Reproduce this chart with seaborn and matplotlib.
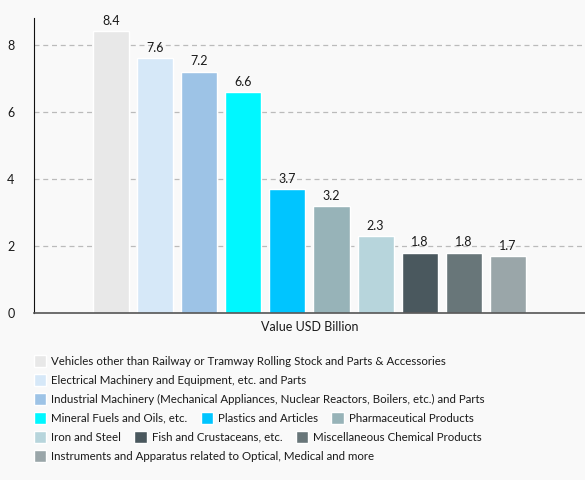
import pandas as pd
import numpy as np
import matplotlib.pyplot as plt
import seaborn as sns

# data
categories = [
    "Vehicles other than Railway or Tramway Rolling Stock and Parts & Accessories",
    "Electrical Machinery and Equipment, etc. and Parts",
    "Industrial Machinery (Mechanical Appliances, Nuclear Reactors, Boilers, etc.) and Parts",
    "Mineral Fuels and Oils, etc.",
    "Plastics and Articles",
    "Pharmaceutical Products",
    "Iron and Steel",
    "Fish and Crustaceans, etc.",
    "Miscellaneous Chemical Products",
    "Instruments and Apparatus related to Optical, Medical and more",
]
values = [8.4, 7.6, 7.2, 6.6, 3.7, 3.2, 2.3, 1.8, 1.8, 1.7]
metric = "Value USD Billion"
colors = ["#e8e8e8", "#d6e8f8", "#9dc3e6", "#00f7ff", "#00c5ff",
          "#97b3b8", "#b7d5dc", "#4a585e", "#687679", "#9aa6a9"]
legend_rows = [1, 1, 1, 3, 3, 1]  # items per legend line

bg = "#f9f9f9"
sns.set_style("white")
plt.rcParams['font.family'] = ['Lato', 'DejaVu Sans']

df = pd.DataFrame({"metric": metric, "category": categories, "value": values})

fig = plt.figure(figsize=(5.85, 4.8), dpi=100, facecolor=bg)
ax = fig.add_axes([0.058, 0.348, 0.942, 0.6145])
ax.set_facecolor(bg)

sns.barplot(data=df, x="metric", y="value", hue="category", hue_order=categories,
            palette=colors, saturation=1, width=0.8, gap=0.18, legend=False, ax=ax)

for cont in ax.containers:
    ax.bar_label(cont, fmt="%.1f", padding=3, fontsize=9, color="#1a1a1a")

ax.set_ylim(0, 8.8)
ax.set_yticks([0, 2, 4, 6, 8])
ax.yaxis.grid(True, linestyle=(0, (4, 3)), color="#bbbbbb", linewidth=0.9)
ax.set_axisbelow(True)
ax.tick_params(axis="both", length=0, colors="#1a1a1a")
ax.tick_params(axis="y", pad=14, labelsize=9)
ax.tick_params(axis="x", pad=6, labelsize=9)
ax.set_xlabel("")
ax.set_ylabel("")
for s in ["top", "right"]:
    ax.spines[s].set_visible(False)
ax.spines["left"].set_color("#111111")
ax.spines["bottom"].set_color("#555555")
ax.spines["bottom"].set_linewidth(1.2)

# flow-style legend, one matplotlib legend per line
handles = list(ax.containers)
y0 = 1 - 355 / 480
step = 19 / 480
i = 0
for r, n in enumerate(legend_rows):
    fig.legend(handles=handles[i:i + n], labels=categories[i:i + n],
               loc="upper left", bbox_to_anchor=(34 / 585, y0 - r * step),
               ncol=n, frameon=False, fontsize=8.3, handlelength=1.05,
               handleheight=1.2, handletextpad=0.45, columnspacing=1.15,
               borderpad=0, borderaxespad=0, labelcolor="#1a1a1a")
    i += n

fig.savefig("out.png", dpi=100, facecolor=bg)
